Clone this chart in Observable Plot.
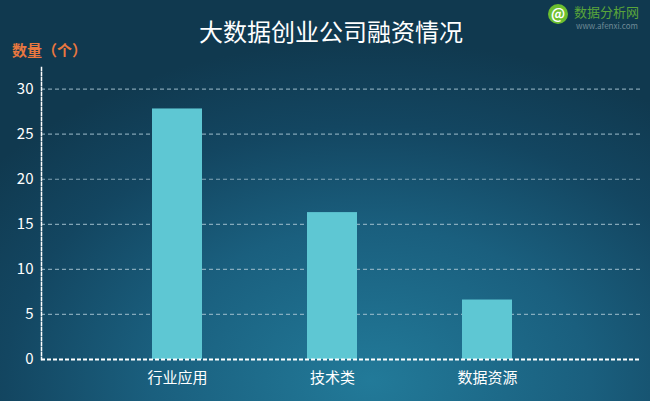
<!DOCTYPE html>
<html><head><meta charset="utf-8">
<script src="https://cdn.jsdelivr.net/npm/d3@7"></script>
<script src="https://cdn.jsdelivr.net/npm/@observablehq/plot@0.6"></script>
<style>
html,body{margin:0;padding:0;}
#wrap{position:relative;width:650px;height:401px;overflow:hidden;
 background: radial-gradient(ellipse 75% 85% at 57% 95%, #227a99 0%, #1a5f7e 45%, #134661 75%, #10394f 100%);
 font-family:"Noto Sans CJK SC","Noto Sans",sans-serif;}
#title{position:absolute;left:0;width:650px;top:13px;text-align:center;color:#fff;font-size:24px;padding-left:12px;box-sizing:border-box;}
#unit{position:absolute;left:12px;top:39px;color:#e8773f;font-size:15px;font-weight:bold;}
#logo{position:absolute;left:548px;top:2px;}
#logo .c{position:absolute;left:0;top:2px;width:20px;height:20px;border-radius:50%;background:#6cbf2f;color:#fff;font-size:14px;font-weight:bold;text-align:center;line-height:19px;}
#logo .t{position:absolute;left:26px;top:0px;color:#5aa63a;font-size:13px;white-space:nowrap;}
#logo .u{position:absolute;left:28px;top:18px;color:#6f8a96;font-size:8px;white-space:nowrap;}
#chart{position:absolute;left:0;top:0;}
</style></head>
<body>
<div id="wrap">
<div id="title"></div>
<div id="unit"></div>
<div id="logo"><div class="c">@</div><div class="t">数据分析网</div><div class="u">www.afenxi.com</div></div>
<div id="chart"></div>
</div>
<script>
const titleText = "大数据创业公司融资情况";
const unitLabel = "数量（个）";
const categories = ["行业应用", "技术类", "数据资源"];
const values = [27.8, 16.3, 6.6];
const yTicks = [0, 5, 10, 15, 20, 25, 30];

document.getElementById("title").textContent = titleText;
document.getElementById("unit").textContent = unitLabel;

const data = categories.map((c, i) => ({category: c, value: values[i]}));

const plot = Plot.plot({
  width: 650,
  height: 401,
  marginTop: 67,
  marginBottom: 42,
  marginLeft: 41,
  marginRight: 10,
  style: {background: "transparent", fontFamily: "'Noto Sans CJK SC', 'Noto Sans', sans-serif", color: "#fff"},
  x: {domain: categories, range: [98, 565], paddingInner: 0.678, paddingOuter: 0.339, label: null},
  y: {domain: [0, 32.4], label: null},
  marks: [
    Plot.ruleY(yTicks.filter(d => d > 0), {stroke: "#a9c6d3", strokeOpacity: 0.75, strokeWidth: 1.2, strokeDasharray: "4,3"}),
    Plot.barY(data, {x: "category", y: "value", fill: "#5ec7d3"}),
    Plot.ruleY([0], {stroke: "#ffffff", strokeWidth: 2, strokeDasharray: "4,2"}),
    Plot.frame({anchor: "left", stroke: "#ffffff", strokeWidth: 1.5, strokeDasharray: "3,2"}),
    Plot.axisY({ticks: yTicks, tickSize: 0, tickPadding: 8, fontSize: 15, fill: "#ffffff", label: null}),
    Plot.axisX({tickSize: 0, tickPadding: 13, fontSize: 15, fill: "#ffffff", label: null})
  ]
});
document.getElementById("chart").appendChild(plot);
</script>
</body></html>
